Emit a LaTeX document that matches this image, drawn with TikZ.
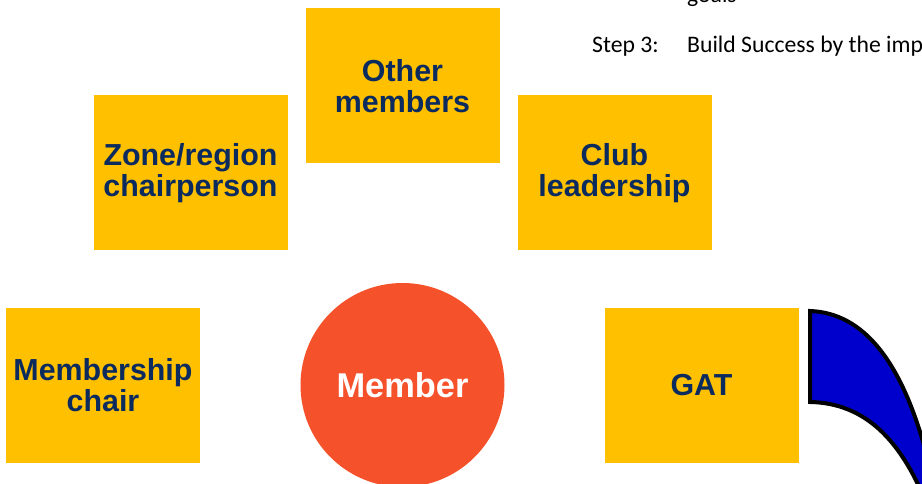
\documentclass[tikz,border=0pt]{standalone}
\usepackage{fontspec}
\newfontfamily\boxfont{Liberation Sans}
\newfontfamily\stepfont{Carlito}
\definecolor{gold}{HTML}{FFC000}
\definecolor{navy}{HTML}{0B2A5E}
\definecolor{tomato}{HTML}{F5512A}
\definecolor{deepblue}{HTML}{0000CC}
\tikzset{
  rolebox/.style={fill=gold, text=navy, inner sep=0pt, align=center,
    minimum width=194pt, minimum height=155pt,
    font=\boxfont\bfseries\fontsize{30.4}{30.5}\selectfont},
  memberdot/.style={circle, fill=tomato, text=white, inner sep=0pt,
    minimum size=204pt, font=\boxfont\bfseries\fontsize{34.4}{34}\selectfont},
  steptext/.style={anchor=base west, inner sep=0pt,
    font=\stepfont\fontsize{23.7}{26}\selectfont}
}
\begin{document}
\begin{tikzpicture}[x=1pt,y=-1pt]
\useasboundingbox (0,0) rectangle (922,484);
\clip (0,0) rectangle (922,484);
% text lines of the slide
\node[steptext] (goals) at (687,3) {goals};
\node[steptext] (step) at (592,53) {Step 3:};
\node[steptext] (build) at (687,53) {Build Success by the imp};
% the roles round the member
\node[rolebox] (other) at (402.5,86) {Other\\members};
\node[rolebox] (zone) at (190.5,173) {Zone/region\\chairperson};
\node[rolebox] (club) at (614.5,173) {Club\\leadership};
\node[rolebox] (mship) at (103,385) {Membership\\chair};
\node[rolebox] (gat) at (701.5,385) {GAT};
\node[memberdot] (member) at (402.5,385) {Member};
% curved arrow at the right edge
\draw[line width=4pt, fill=deepblue, line join=miter]
  (810,311) .. controls (864,313) and (903,362) .. (928,460)
  -- (925,500)
  .. controls (900,440) and (865,403) .. (810,402) -- cycle;
\end{tikzpicture}
\end{document}
